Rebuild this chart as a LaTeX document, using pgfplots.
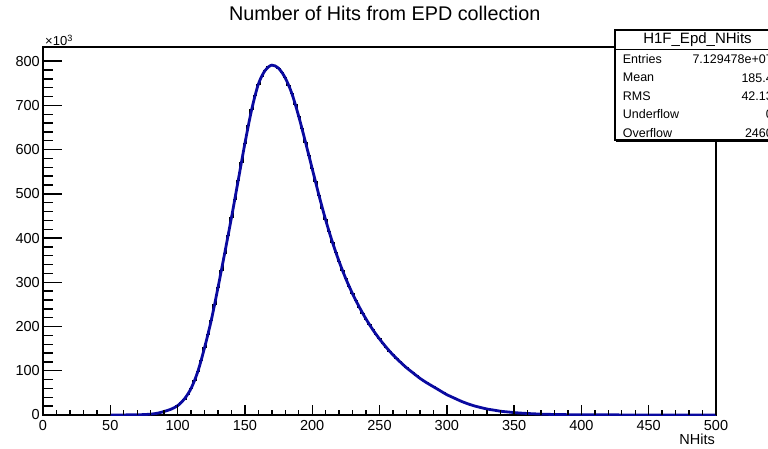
\documentclass[border=0pt]{standalone}
\usepackage{pgfplots}
\pgfplotsset{compat=1.18}
\usepackage{fontspec}
\setmainfont{Liberation Sans}
\definecolor{fitblue}{RGB}{10,10,160}
\begin{document}
\begin{tikzpicture}[x=1pt,y=1pt]
\useasboundingbox (-43,-33) rectangle (725,415);
\pgfplotsset{
  common/.style={
    width=673pt, height=368pt, scale only axis,
    at={(0,0)}, anchor=south west,
    xmin=0, xmax=500, ymin=0, ymax=832,
    tick align=inside,
    scaled ticks=false,
    /pgf/number format/assume math mode=true,
    tick label style={font=\fontsize{14.5}{16}\selectfont},
  }
}
\begin{axis}[common,
  axis line style={line width=1.8pt},
  xtick=\empty,
  ytick={0,100,200,300,400,500,600,700,800},
  minor y tick num=4,
  ytick pos=left,
  major tick length=19pt, minor tick length=9.5pt,
  every tick/.style={black, line width=1.4pt},
  yticklabel style={anchor=east, inner sep=0pt, xshift=-3pt},
]
\addplot[const plot mark mid, black, line width=1pt] coordinates {
(0,0) (67.5,0)
(70,0.5) (72.5,0.7) (75,1) (77.5,1.5) (80,2) (82.5,3) (85,4) (87.5,6)
(90,8) (92.5,10) (95,13) (97.5,17) (100,21) (102.5,28) (105,36) (107.5,47)
(110,60) (112.5,78) (115,98) (117.5,123) (120,152) (122.5,182) (125,214) (127.5,250)
(130,288) (132.5,327) (135,366) (137.5,405) (140,446) (142.5,488) (145,530) (147.5,572)
(150,614) (152.5,654) (155,690) (157.5,722) (160,748) (162.5,766) (165,779) (167.5,787)
(170,791) (172.5,789) (175,784) (177.5,775) (180,762) (182.5,746) (185,726) (187.5,702)
(190,675) (192.5,647) (195,617) (197.5,587) (200,557) (202.5,527) (205,497) (207.5,468)
(210,441) (212.5,415) (215,391) (217.5,368) (220,347) (222.5,327) (225,308) (227.5,290)
(230,274) (232.5,259) (235,244) (237.5,230) (240,217) (242.5,205) (245,193) (247.5,182)
(250,172) (252.5,162) (255,153) (257.5,144) (260,136) (262.5,128) (265,121) (267.5,114)
(270,107) (272.5,101) (275,95) (277.5,89) (280,83) (282.5,78) (285,73) (287.5,68)
(290,64) (292.5,59) (295,55) (297.5,50) (300,46) (302.5,42) (305,39) (307.5,35)
(310,32) (312.5,29) (315,26) (317.5,23.5) (320,21) (322.5,19) (325,17) (327.5,15)
(330,13.5) (332.5,12) (335,11) (337.5,9.7) (340,8.5) (342.5,7.7) (345,7) (347.5,6.2)
(350,5.5) (355,4.3) (360,3.4) (365,2.6) (370,2) (380,1.2) (390,0.8) (400,0.5)
(420,0.3) (450,0.1) (480,0) (500,0)
};
\addplot[smooth, fitblue, line width=2.8pt] coordinates {
(50,0) (60,0.2) (70,0.5) (75,1) (80,2) (85,4) (90,8) (95,13) (100,21) (105,36)
(110,60) (115,98) (120,152) (125,214) (130,288) (135,366) (140,446) (145,530)
(150,614) (155,690) (160,748) (165,779) (170,791) (175,784) (180,762) (185,726)
(190,675) (195,617) (200,557) (205,497) (210,441) (215,391) (220,347) (225,308)
(230,274) (235,244) (240,217) (245,193) (250,172) (255,153) (260,136) (265,121)
(270,107) (275,95) (280,83) (285,73) (290,64) (295,55) (300,46) (305,39)
(310,32) (315,26) (320,21) (325,17) (330,13.5) (335,11) (340,8.5) (345,7)
(350,5.5) (355,4.3) (360,3.4) (370,2) (380,1.2) (400,0.5) (450,0.1) (500,0)
};
\end{axis}
\begin{axis}[common,
  axis line style={draw=none},
  ytick=\empty,
  xtick={0,50,100,150,200,250,300,350,400,450,500},
  minor x tick num=4,
  xtick pos=left,
  major tick length=10pt, minor tick length=5pt,
  every tick/.style={black, line width=1.4pt},
  xticklabel style={anchor=base, inner sep=0pt, yshift=-15pt},
]
\end{axis}
% title and labels
\node[anchor=base, inner sep=0pt, font=\fontsize{19.8}{22}\selectfont] at (384.7-43,394) {Number of Hits from EPD collection};
\node[anchor=base west, inner sep=0pt, font=\fontsize{13}{15}\selectfont] at (2,369.5) {×10\textsuperscript{3}};
\node[anchor=base east, inner sep=0pt, font=\fontsize{14.5}{16}\selectfont] at (672,-29) {NHits};
% stats box
\fill[white] (572,275) rectangle (737,385);
\draw[line width=2.2pt] (573,274) -- (739,274);
\draw[line width=1.4pt] (572,275) rectangle (737,385);
\draw[line width=1.4pt] (572,365.5) -- (737,365.5);
\node[font=\fontsize{15}{17}\selectfont, inner sep=0pt] at (654.5,375) {H1F\_Epd\_NHits};
\begin{scope}[every node/.style={inner sep=0pt, font=\fontsize{12.5}{14}\selectfont}]
\node[anchor=west] at (579.7,355.7) {Entries};
\node[anchor=west] at (579.7,337.3) {Mean};
\node[anchor=west] at (579.7,319) {RMS};
\node[anchor=west] at (579.7,300.7) {Underflow};
\node[anchor=west] at (579.7,281.7) {Overflow};
\node[anchor=east] at (730,355.7) {7.129478e+07};
\node[anchor=east] at (730,337.3) {185.4};
\node[anchor=east] at (730,319) {42.13};
\node[anchor=east] at (730,300.7) {0};
\node[anchor=east] at (730,281.7) {2460};
\end{scope}
\end{tikzpicture}
\end{document}
